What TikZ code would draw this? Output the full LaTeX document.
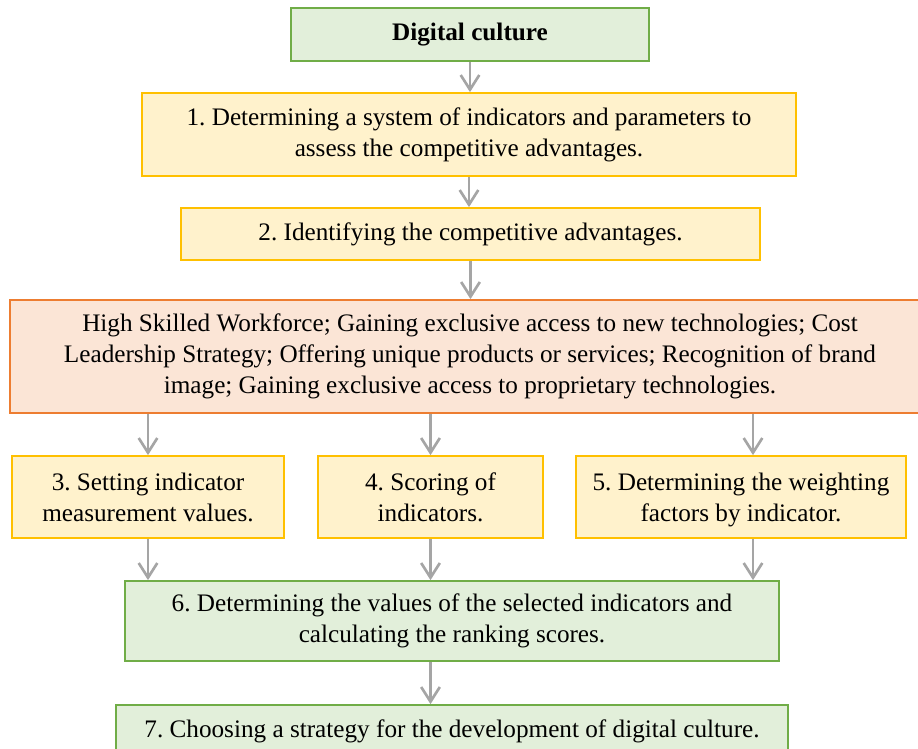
\documentclass[tikz,border=0pt]{standalone}
\usepackage{fontspec}
\setmainfont{Liberation Serif}
\usetikzlibrary{arrows.meta}
\usetikzlibrary{positioning}
\definecolor{gruenfill}{HTML}{E2EFDA}
\definecolor{gruenrand}{HTML}{70AD47}
\definecolor{gelbfill}{HTML}{FFF2CC}
\definecolor{gelbrand}{HTML}{FFC000}
\definecolor{rotfill}{HTML}{FBE5D6}
\definecolor{rotrand}{HTML}{ED7D31}
\definecolor{pfeilgrau}{HTML}{A5A5A5}
\frenchspacing
\tikzset{
	>={Straight Barb[length=11pt,width=14pt,line width=2pt]},
	kasten/.style={
		rectangle,
		line width=1.3pt,
		inner sep=0pt,
		align=center,
		font=\fontsize{18.9}{23.25}\selectfont},
	gruen/.style={kasten, fill=gruenfill, draw=gruenrand},
	gelb/.style={kasten, fill=gelbfill, draw=gelbrand},
	rot/.style={kasten, fill=rotfill, draw=rotrand},
	pfeil/.style={draw=pfeilgrau, line width=2pt, ->},
}
\begin{document}
\begin{tikzpicture}[x=0.75pt, y=-0.75pt]
	\useasboundingbox (0,0) rectangle (918,749);

	\node[gruen, minimum width=268.5pt, minimum height=39.75pt, font=\fontsize{18.9}{23.25}\selectfont\bfseries]
	(digital) at (470,34.5) {Digital culture};
	\node[gelb, minimum width=490.5pt, minimum height=62.25pt]
	(system) at (469,134.5) {1. Determining a system of indicators and parameters to\\assess the competitive advantages.};
	\node[gelb, minimum width=434.25pt, minimum height=39pt]
	(identify) at (470.5,234) {2. Identifying the competitive advantages.};
	\node[rot, minimum width=690pt, minimum height=84.75pt]
	(vorteile) at (470,356.5) {High Skilled Workforce; Gaining exclusive access to new technologies; Cost\\Leadership Strategy; Offering unique products or services; Recognition of brand\\image; Gaining exclusive access to proprietary technologies.};
	\node[gelb, minimum width=204pt, minimum height=61.5pt]
	(setting) at (148,497) {3. Setting indicator\\measurement values.};
	\node[gelb, minimum width=168.75pt, minimum height=61.5pt]
	(scoring) at (430.5,497) {4. Scoring of\\indicators.};
	\node[gelb, minimum width=247.5pt, minimum height=61.5pt, text depth=0pt]
	(weights) at (741,497) {5. Determining the weighting\\factors by indicator.};
	\node[gruen, minimum width=490.5pt, minimum height=60pt]
	(ranking) at (452,621) {6. Determining the values of the selected indicators and\\calculating the ranking scores.};
	\node[gruen, minimum width=504pt, minimum height=39pt]
	(strategy) at (452,731) {7. Choosing a strategy for the development of digital culture.};

	% arrows down the main column
	\draw[pfeil] (digital.south) -- (digital.south |- system.north);
	\draw[pfeil] (system.south) -- (system.south |- identify.north);
	\draw[pfeil] (identify.south) -- (identify.south |- vorteile.north);

	% branching into the three steps
	\draw[pfeil] (vorteile.south -| setting) -- (setting.north);
	\draw[pfeil] (vorteile.south -| scoring) -- (scoring.north);
	\draw[pfeil] (vorteile.south -| weights.north) ++(9pt,0) -- ([xshift=9pt]weights.north);

	% and back together
	\draw[pfeil] (setting.south) -- (setting.south |- ranking.north);
	\draw[pfeil] (scoring.south) -- (scoring.south |- ranking.north);
	\draw[pfeil] ([xshift=9pt]weights.south) -- ([xshift=9pt]weights.south |- ranking.north);
	\draw[pfeil] (ranking.south -| scoring) -- (strategy.north -| scoring);
\end{tikzpicture}
\end{document}
